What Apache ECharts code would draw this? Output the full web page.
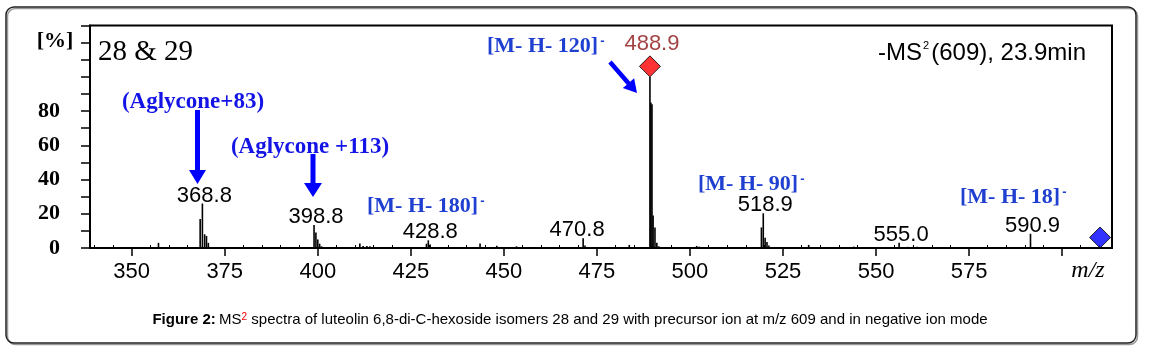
<!DOCTYPE html>
<html>
<head>
<meta charset="utf-8">
<script src="https://cdn.jsdelivr.net/npm/echarts@6/dist/echarts.min.js"></script>
<style>
html,body{margin:0;padding:0;background:#fff;}
#c{width:1149px;height:353px;}
</style>
</head>
<body>
<div id="c"></div>
<script>
// ---- data (peak positions as drawn) ----
const peakMz = [357.2, 368.4, 369.0, 369.6, 370.1, 370.6, 399.0, 399.5, 400.0, 400.5, 401.0,
  411.3, 412.2, 413.2, 414.0, 429.2, 429.7, 430.2, 443.6, 448.1, 453.4, 471.3, 471.8, 483.7,
  489.25, 489.5, 489.8, 490.1, 490.6, 491.1, 491.6, 501.8, 502.5, 519.2, 519.7, 520.2, 520.7, 521.2,
  531.9, 544.0, 556.2, 558.5, 560.0, 561.0, 591.5];
const peakIntensity = [3, 17, 26, 8, 7, 3, 13.5, 9, 5, 2.5, 1,
  2.7, 1.2, 1.2, 1, 2.5, 4.5, 2, 2.7, 1.3, 1, 5.7, 1.5, 1.8,
  100, 85, 84, 19, 12, 3, 1, 1.2, 0.8, 12, 20.3, 6, 3.5, 1.5,
  1.8, 0.8, 3, 0.7, 0.7, 0.7, 8.3];
const labelledPeaks = [369.0, 399.0, 429.7, 471.3, 519.7, 556.2, 591.5];
const labelTexts = ['368.8', '398.8', '428.8', '470.8', '518.9', '555.0', '590.9'];
const basePeak = [489.25, 100];
const basePeakLabel = '488.9';
const precursor = [610.2, 0];
const xMajorTicks = [350, 375, 400, 425, 450, 475, 500, 525, 550, 575, 600];
const xTickLabels = [350, 375, 400, 425, 450, 475, 500, 525, 550, 575];
const xMinorTicks = [340,345,355,360,365,370,380,385,390,395,405,410,415,420,430,435,440,445,455,460,465,470,480,485,490,495,505,510,515,520,530,535,540,545,555,560,565,570,580,585,590,595,605,610];
const yTicks = [0,10,20,30,40,50,60,70,80,90,100,110,120,130];
const yTickLabels = [0,20,40,60,80];

// ---- build ----
const labelShift = { '470.8': [-6, 5] };
const spectrum = peakMz.map((m, i) => {
  const k = labelledPeaks.indexOf(m);
  if (k >= 0) {
    return { value: [m, peakIntensity[i]], label: { show: true, formatter: labelTexts[k], offset: labelShift[labelTexts[k]] || [2, 5] } };
  }
  return [m, peakIntensity[i]];
});

const chart = echarts.init(document.getElementById('c'), null, { renderer: 'canvas' });
const SERIF = "'Liberation Serif','Times New Roman',serif";
const SANS = "'Liberation Sans',Arial,sans-serif";
const BLUE = '#1f3fd0';
const ARROW = '#0000ff';

function txt(x, y, text, font, fill, align, valign) {
  return { type: 'text', x: x, y: y, style: { text: text, font: font, fill: fill, textAlign: align || 'left', textVerticalAlign: valign || 'middle' }, z: 10 };
}
function ion(x, y, body) {
  return { type: 'text', x: x, y: y, z: 10,
    style: { text: '{a|' + body + '}{s|-}', textAlign: 'left', textVerticalAlign: 'middle',
      rich: {
        a: { fontFamily: SERIF, fontWeight: 'bold', fontSize: 22, fill: BLUE, color: BLUE },
        s: { fontFamily: SANS, fontWeight: 'bold', fontSize: 13, fill: BLUE, color: BLUE, verticalAlign: 'top', padding: [0, 0, 0, 2] }
      } } };
}
function vArrow(cx, y0, y1, headLen, headW, shaftW) {
  return {
    type: 'polygon', z: 10,
    shape: { points: [
      [cx - shaftW / 2, y0], [cx + shaftW / 2, y0], [cx + shaftW / 2, y1 - headLen],
      [cx + headW / 2, y1 - headLen], [cx, y1], [cx - headW / 2, y1 - headLen], [cx - shaftW / 2, y1 - headLen]
    ] },
    style: { fill: ARROW }
  };
}
function dArrow(x0, y0, x1, y1, headLen, headW, shaftW) {
  const dx = x1 - x0, dy = y1 - y0, L = Math.hypot(dx, dy);
  const ux = dx / L, uy = dy / L, px = -uy, py = ux;
  const bx = x1 - ux * headLen, by = y1 - uy * headLen;
  const s = shaftW / 2, h = headW / 2;
  return {
    type: 'polygon', z: 10,
    shape: { points: [
      [x0 + px * s, y0 + py * s], [bx + px * s, by + py * s], [bx + px * h, by + py * h], [x1, y1],
      [bx - px * h, by - py * h], [bx - px * s, by - py * s], [x0 - px * s, y0 - py * s]
    ] },
    style: { fill: ARROW }
  };
}

const option = {
  animation: false,
  backgroundColor: '#fff',
  grid: { left: 90, right: 37, top: 25.5, bottom: 105, show: true, borderColor: '#000', borderWidth: 2, backgroundColor: 'transparent' },
  xAxis: [{
    type: 'value', min: 338.8, max: 613.4,
    axisLine: { show: true, onZero: false, lineStyle: { color: '#000', width: 2 } },
    axisTick: { show: true, customValues: xMajorTicks, length: 8, lineStyle: { color: '#000', width: 1.5 } },
    axisLabel: { customValues: xTickLabels, fontSize: 22, fontFamily: SANS, color: '#000', margin: 13 },
    splitLine: { show: false }
  }, {
    type: 'value', min: 338.8, max: 613.4, position: 'bottom',
    axisLine: { show: false },
    axisTick: { show: true, customValues: xMinorTicks, inside: true, length: 3, lineStyle: { color: '#000', width: 1 } },
    axisLabel: { show: false },
    splitLine: { show: false }
  }],
  yAxis: {
    type: 'value', min: 0, max: 130,
    axisLine: { show: true, lineStyle: { color: '#000', width: 2 } },
    axisTick: { show: true, customValues: yTicks, length: 9, lineStyle: { color: '#000', width: 1.5 } },
    axisLabel: { customValues: yTickLabels, fontSize: 22, fontFamily: SERIF, fontWeight: 'bold', color: '#000', margin: 30 },
    splitLine: { show: false }
  },
  series: [{
    type: 'bar', xAxisIndex: 0, barWidth: 1.6, barGap: '-100%',
    itemStyle: { color: '#000' },
    label: { show: false, position: 'top', distance: 2, fontSize: 22, fontFamily: SANS, color: '#000' },
    data: spectrum
  }, {
    type: 'scatter', xAxisIndex: 0, symbol: 'diamond', symbolSize: [21, 21], symbolOffset: [0, -10.5],
    itemStyle: { color: '#ff0000', borderColor: '#000', borderWidth: 1 },
    label: { show: true, position: 'top', distance: 0, offset: [2, 0], formatter: basePeakLabel, fontSize: 22, fontFamily: SANS, color: '#8b1010' },
    data: [basePeak], z: 5
  }, {
    type: 'scatter', xAxisIndex: 0, symbol: 'diamond', symbolSize: [21, 21], symbolOffset: [0, -10.5],
    itemStyle: { color: '#0000ff', borderColor: '#000', borderWidth: 1 },
    data: [precursor], z: 5
  }],
  graphic: [
    { type: 'rect', shape: { x: 6, y: 7, width: 1130, height: 336, r: 8 },
      style: { fill: 'none', stroke: '#222', lineWidth: 1.5, shadowColor: '#999', shadowOffsetX: 1.5, shadowOffsetY: 1.5 }, z: 0, silent: true },
    txt(55, 41, '[%]', 'bold 22px ' + SERIF, '#000', 'center'),
    txt(98, 52, '28 & 29', '29px ' + SERIF, '#000', 'left'),
    txt(193, 102, '(Aglycone+83)', 'bold 23px ' + SERIF, '#1414e6', 'center'),
    txt(310, 147, '(Aglycone +113)', 'bold 23px ' + SERIF, '#1414e6', 'center'),
    vArrow(197.5, 110, 184, 14, 17, 5),
    vArrow(313, 154, 197, 14, 18, 5),
    dArrow(610, 62, 637, 93, 13, 15, 4.5),
    ion(487, 46, '[M- H- 120]'),
    ion(367, 206, '[M- H- 180]'),
    ion(698, 184, '[M- H- 90]'),
    ion(960, 197, '[M- H- 18]'),
    txt(922, 53, '-MS', '24px ' + SANS, '#000', 'right'),
    txt(923, 46, '2', '11px ' + SANS, '#000', 'left'),
    txt(1086, 53, '(609), 23.9min', '24px ' + SANS, '#000', 'right'),
    txt(1088, 271, 'm/z', 'italic 24px ' + SERIF, '#000', 'center'),
    { type: 'text', x: 570, y: 320, z: 10,
      style: {
        text: '{b|Figure 2:} {n|MS}{r|2}{n| spectra of luteolin 6,8-di-C-hexoside isomers 28 and 29 with precursor ion at m/z 609 and in negative ion mode}',
        textAlign: 'center', textVerticalAlign: 'middle',
        rich: {
          b: { fontFamily: SANS, fontSize: 15, fontWeight: 'bold', fill: '#000', color: '#000' },
          n: { fontFamily: SANS, fontSize: 15, fill: '#000', color: '#000' },
          r: { fontFamily: SANS, fontSize: 10, fill: '#e00', color: '#e00', verticalAlign: 'top' }
        }
      }
    }
  ]
};
chart.setOption(option);
</script>
</body>
</html>
